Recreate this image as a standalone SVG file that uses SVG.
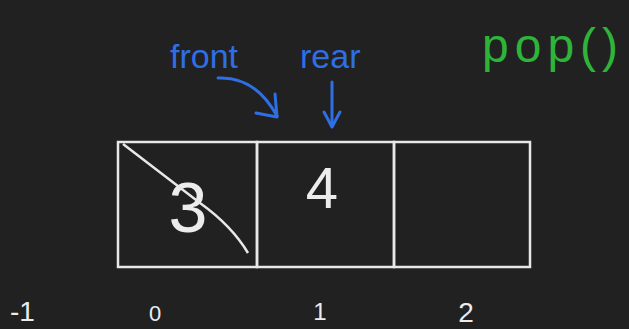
<svg xmlns="http://www.w3.org/2000/svg" width="629" height="329" viewBox="0 0 629 329">
<style>
.w{fill:none;stroke:#e8e8e8;stroke-width:2.5}
.b{fill:none;stroke:#2f6fe6;stroke-width:3;stroke-linecap:round;stroke-linejoin:round}
.hw{font-family:"Liberation Sans",sans-serif;fill:#ececec}
.bt{font-family:"Liberation Sans",sans-serif;fill:#2f6fe6;font-size:34px}
</style>
<rect width="629" height="329" fill="#212121"/>
<g id="cell0"><rect class="w" x="118" y="142" width="139" height="125"/><text class="hw" x="188" y="232" font-size="70" text-anchor="middle">3</text><path class="w" d="M123 144 L200 203 Q232 226 248 253"/></g>
<g id="cell1"><rect class="w" x="257" y="142" width="137" height="125"/><text class="hw" x="322" y="208" font-size="58" text-anchor="middle">4</text></g>
<g id="cell2"><rect class="w" x="394" y="142" width="136" height="125"/></g>
<g id="labels">
<text class="bt" x="170" y="68">front</text>
<text class="bt" x="300" y="68">rear</text>
<text x="482" y="62" font-family="Liberation Sans,sans-serif" font-size="48" fill="#2fb43a" letter-spacing="6">pop()</text>
<text class="hw" x="10" y="321" font-size="28">-1</text>
<text class="hw" x="155" y="321" font-size="22" text-anchor="middle">0</text>
<text class="hw" x="320" y="320" font-size="24" text-anchor="middle">1</text>
<text class="hw" x="466" y="322" font-size="28" text-anchor="middle">2</text>
</g>
<g id="connectors">
<path class="b" d="M218 78 Q255 76 277 116"/>
<path class="b" d="M256 113 L277 117 L275 94"/>
<path class="b" d="M332 82 L332 126"/>
<path class="b" d="M324 112 L332 127 L340 112"/>
</g>
</svg>
